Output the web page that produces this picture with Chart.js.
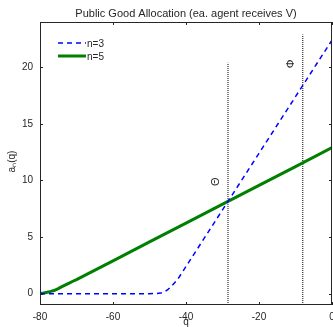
<!DOCTYPE html>
<html>
<head>
<meta charset="utf-8">
<script src="https://cdn.jsdelivr.net/npm/chart.js@4/dist/chart.umd.min.js"></script>
<style>
  html, body { margin: 0; padding: 0; background: #fff; }
  #wrap { width: 333px; height: 327px; }
</style>
</head>
<body>
<div id="wrap"><canvas id="chart"></canvas></div>
<script>
// data
const q3 = [-80, -70, -60, -50, -48, -47, -46, -45, -44, -43, -42, -41, -40, -35, -30, -28.5, -20, -10, -8, 0];
const n3 = [0, 0, 0, 0, 0.02, 0.05, 0.15, 0.35, 0.65, 1.0, 1.4, 1.9, 2.4, 4.9, 7.4, 8.15, 12.4, 17.4, 18.4, 22.4];
const q5 = [-80, -79, -78, -77, -76, -75, -74, -73, -72, -71, -70, -60, -50, -40, -28.5, -20, -10, 0];
const n5 = [0.02, 0.06, 0.12, 0.2, 0.3, 0.45, 0.62, 0.78, 0.94, 1.1, 1.25, 2.9, 4.57, 6.23, 8.15, 9.57, 11.23, 12.9];
const markers = [
  { label: 'Θ', q: -28.5, top: 20.4, textY: 9.9 },
  { label: 'Φ', q: -8, top: 22.9, textY: 20.3 }
];
const xTicks = [-80, -60, -40, -20, 0];
const yTicks = [0, 5, 10, 15, 20];
const titleText = 'Public Good Allocation (ea. agent receives V)';

const toPoints = (xs, ys) => xs.map((x, i) => ({ x: x, y: ys[i] }));
const font = "'Liberation Sans', Arial, sans-serif";
const textColor = '#262626';

const datasets = [
  {
    label: 'n=3',
    data: toPoints(q3, n3),
    borderColor: '#0000ff',
    borderWidth: 1.5,
    borderDash: [5, 4],
    pointRadius: 0,
    tension: 0
  },
  {
    label: 'n=5',
    data: toPoints(q5, n5),
    borderColor: '#008000',
    borderWidth: 3,
    pointRadius: 0,
    tension: 0
  }
];
markers.forEach(m => {
  datasets.push({
    label: m.label,
    data: [{ x: m.q, y: -1 }, { x: m.q, y: m.top }],
    borderColor: '#000',
    borderWidth: 1,
    borderDash: [1, 1],
    pointRadius: 0,
    isMarker: true
  });
});

// frame, inside ticks, legend, marker labels, titles
const decorations = {
  id: 'decorations',
  afterDraw(chart) {
    const ctx = chart.ctx;
    const a = chart.chartArea;
    const xs = chart.scales.x, ys = chart.scales.y;
    ctx.save();
    ctx.strokeStyle = '#262626';
    ctx.lineWidth = 1;
    ctx.strokeRect(a.left + 0.5, a.top + 0.5, a.right - a.left - 1, a.bottom - a.top - 1);
    ctx.beginPath();
    xTicks.forEach(v => {
      const px = Math.round(xs.getPixelForValue(v)) + 0.5;
      ctx.moveTo(px, a.bottom); ctx.lineTo(px, a.bottom - 3);
      ctx.moveTo(px, a.top); ctx.lineTo(px, a.top + 3);
    });
    yTicks.forEach(v => {
      const py = Math.round(ys.getPixelForValue(v)) + 0.5;
      ctx.moveTo(a.left, py); ctx.lineTo(a.left + 3, py);
      ctx.moveTo(a.right, py); ctx.lineTo(a.right - 3, py);
    });
    ctx.stroke();

    // legend
    ctx.font = '10px ' + font;
    ctx.fillStyle = textColor;
    ctx.textBaseline = 'middle';
    chart.data.datasets.filter(d => !d.isMarker).forEach((d, i) => {
      const y = a.top + 21 + i * 13;
      ctx.beginPath();
      ctx.strokeStyle = d.borderColor;
      ctx.lineWidth = d.borderWidth;
      ctx.setLineDash(d.borderDash || []);
      ctx.moveTo(a.left + 18, y); ctx.lineTo(a.left + 46, y);
      ctx.stroke();
      ctx.setLineDash([]);
      ctx.fillText(d.label, a.left + 47, y + 1);
    });

    // rotated marker labels
    ctx.font = '11px ' + font;
    ctx.textAlign = 'center';
    markers.forEach(m => {
      ctx.save();
      ctx.translate(xs.getPixelForValue(m.q) - 12, ys.getPixelForValue(m.textY));
      ctx.rotate(-Math.PI / 2);
      ctx.fillText(m.label, 0, 0);
      ctx.restore();
    });

    // title centred over the plot area
    ctx.font = '11px ' + font;
    ctx.fillText(titleText, (a.left + a.right) / 2, 14);

    // axis titles
    ctx.font = '10px ' + font;
    ctx.fillText('q', (a.left + a.right) / 2, 322);
    ctx.save();
    ctx.translate(12, (a.top + a.bottom) / 2 - 2);
    ctx.rotate(-Math.PI / 2);
    ctx.fillText('aₙ(q)', 0, 0);
    ctx.restore();
    ctx.restore();
  }
};

new Chart(document.getElementById('chart'), {
  type: 'line',
  data: { datasets: datasets },
  options: {
    responsive: true,
    maintainAspectRatio: false,
    animation: false,
    layout: { padding: { left: 0, right: 1, top: 22, bottom: 0 } },
    plugins: {
      legend: { display: false },
      tooltip: { enabled: false },
      title: { display: false }
    },
    scales: {
      x: {
        type: 'linear',
        min: -80,
        max: 0,
        afterBuildTicks: s => { s.ticks = xTicks.map(v => ({ value: v })); },
        afterFit: s => { s.height = 22; s.paddingLeft = 0; s.paddingRight = 0; },
        grid: { display: false, drawTicks: false },
        border: { display: false },
        ticks: { color: textColor, padding: 6, font: { family: font, size: 10 } }
      },
      y: {
        type: 'linear',
        min: -1,
        max: 24,
        afterBuildTicks: s => { s.ticks = yTicks.map(v => ({ value: v })); },
        afterFit: s => { s.width = 40; s.paddingTop = 0; s.paddingBottom = 0; },
        grid: { display: false, drawTicks: false },
        border: { display: false },
        ticks: { color: textColor, padding: 7, font: { family: font, size: 10 } }
      }
    }
  },
  plugins: [decorations]
});
</script>
</body>
</html>
